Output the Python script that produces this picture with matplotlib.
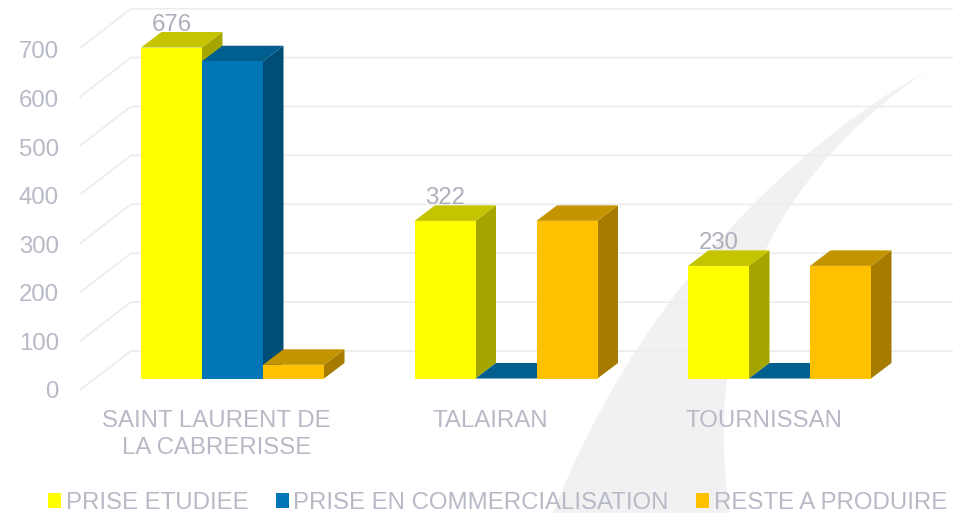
"""3D-look clustered bars: prises etudiees per commune, on a faint swoosh background."""

import matplotlib

matplotlib.use("Agg")
import matplotlib.pyplot as plt
import numpy as np
from matplotlib.patches import PathPatch, Polygon
from matplotlib.path import Path

COMMUNES = ["SAINT LAURENT DE\nLA CABRERISSE", "TALAIRAN", "TOURNISSAN"]
PRISE_ETUDIEE = [676, 322, 230]
PRISE_COMMERCIALISATION = [648, 0, 0]
RESTE_A_PRODUIRE = [28, 322, 230]
Y_TICKS = [0, 100, 200, 300, 400, 500, 600, 700]

SERIES_NAMES = ["PRISE ETUDIEE", "PRISE EN COMMERCIALISATION", "RESTE A PRODUIRE"]
FRONT_COLORS = ["#FFFF00", "#0076B6", "#FFC000"]
TOP_COLORS = ["#C4C400", "#005F8E", "#C49300"]
SIDE_COLORS = ["#A5A500", "#004D76", "#A67C00"]
TEXT_COLOR = "#B7BAC6"
LABEL_COLOR = "#ADB0BC"
GRID_COLOR = "#EDEDED"
SWOOSH_COLOR = "#F1F1F1"
FONT_SIZE = 17.3

WIDTH, HEIGHT = 954, 513
PX_PER_CAT = 273.5
PX_PER_VAL = 0.4896
CAT0_PX = 232.5
FLOOR_PX = 378.5
BAR_PX = 61.0
DEPTH_X = 20.5 / PX_PER_CAT
DEPTH_Y = 15.5 / PX_PER_VAL


def px(x, y):
    """Picture pixels -> data coordinates, for the decorations only."""
    return (np.asarray(x) - CAT0_PX) / PX_PER_CAT, (FLOOR_PX - np.asarray(y)) / PX_PER_VAL


plt.rcParams["font.family"] = ["Liberation Sans", "DejaVu Sans"]

fig = plt.figure(figsize=(WIDTH / 100, HEIGHT / 100), dpi=100)
ax = fig.add_axes([0, 0, 1, 1])
ax.set_xlim(px(0, 0)[0], px(WIDTH, 0)[0])
ax.set_ylim(px(0, HEIGHT)[1], px(0, 0)[1])
ax.axis("off")

# Watermark swoosh behind everything
swoosh = [(927, 71), (800, 140), (640, 290), (553, 513), (730, 513), (700, 320), (780, 170), (927, 71)]
verts = [px(x, y) for x, y in swoosh]
codes = [Path.MOVETO, Path.CURVE4, Path.CURVE4, Path.CURVE4, Path.LINETO, Path.CURVE4, Path.CURVE4, Path.CURVE4]
ax.add_patch(PathPatch(Path(verts, codes), facecolor=SWOOSH_COLOR, edgecolor="none", zorder=0))

# Wall and side gridlines, tick labels next to the front end
for tick in Y_TICKS:
    y_back = 351 - tick * 0.489
    y_front = 390 - tick * 0.4885
    xs, ys = px([80, 131, WIDTH], [y_front, y_back, y_back])
    ax.plot(xs, ys, color=GRID_COLOR, lw=1.3, zorder=1, solid_joinstyle="miter")
    lx, ly = px(59, 390 - tick * 0.486)
    ax.text(lx, ly, str(tick), color=TEXT_COLOR, fontsize=FONT_SIZE, ha="right", va="center_baseline", zorder=5)

# Bars: front faces through ax.bar, then top and side faces from the same values
bar_w = BAR_PX / PX_PER_CAT
cats = np.arange(len(COMMUNES))
all_series = [PRISE_ETUDIEE, PRISE_COMMERCIALISATION, RESTE_A_PRODUIRE]
handles = []
for i, values in enumerate(all_series):
    z = 2 + i
    lefts = cats + (i - 1.5) * bar_w
    for left, val in zip(lefts, values):
        right = left + bar_w
        ax.add_patch(Polygon([(right, 0), (right + DEPTH_X, DEPTH_Y), (right + DEPTH_X, val + DEPTH_Y), (right, val)],
                             facecolor=SIDE_COLORS[i], edgecolor="none", zorder=z))
        ax.add_patch(Polygon([(left, val), (left + DEPTH_X, val + DEPTH_Y), (right + DEPTH_X, val + DEPTH_Y), (right, val)],
                             facecolor=TOP_COLORS[i], edgecolor="none", zorder=z))
    bars = ax.bar(lefts, values, width=bar_w, align="edge", color=FRONT_COLORS[i], linewidth=0, zorder=z,
                  label=SERIES_NAMES[i])
    handles.append(bars)

# Value labels on the first series only
for cat, val in zip(cats, PRISE_ETUDIEE):
    ax.text(cat - bar_w, val + 25 / PX_PER_VAL, str(val), color=LABEL_COLOR, fontsize=FONT_SIZE,
            ha="center", va="center_baseline", zorder=6)

# Category labels
for cat, name in zip(cats, COMMUNES):
    ax.text(cat - 16 / PX_PER_CAT, px(0, 410)[1], name, color=TEXT_COLOR, fontsize=FONT_SIZE, ha="center", va="top",
            linespacing=1.3, zorder=5)

ax.legend(handles=handles, loc="lower left", bbox_to_anchor=(48 / WIDTH, -0.002), ncol=3, frameon=False,
          fontsize=FONT_SIZE, labelcolor=TEXT_COLOR, handlelength=0.54, handleheight=0.54, handletextpad=0.2,
          columnspacing=1.13, borderpad=0, borderaxespad=0)

fig.savefig("out.png", dpi=100)
plt.close(fig)
